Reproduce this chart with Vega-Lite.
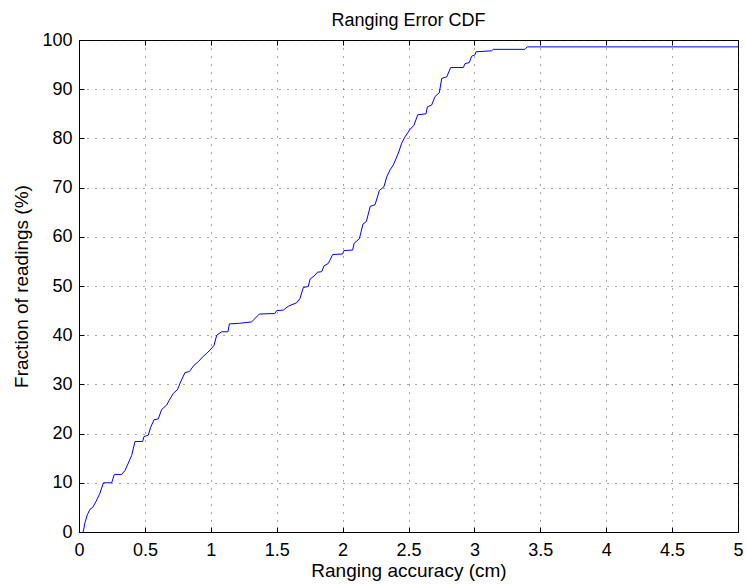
{
  "$schema": "https://vega.github.io/schema/vega-lite/v6.json",
  "autosize": "none",
  "width": 659,
  "height": 492,
  "padding": {"left": 79, "top": 40, "right": 8, "bottom": 52},
  "background": "white",
  "config": {
    "font": "Liberation Sans",
    "view": {"stroke": "black", "strokeWidth": 1},
    "axis": {
      "domainColor": "black",
      "tickColor": "black",
      "labelColor": "black",
      "titleColor": "black",
      "labelFont": "Liberation Sans",
      "titleFont": "Liberation Sans",
      "labelFontSize": 18,
      "titleFontSize": 19,
      "titleFontWeight": "normal",
      "tickSize": -5,
      "gridColor": "#222",
      "gridDash": [1, 7],
      "gridOpacity": 0.8
    },
    "title": {"font": "Liberation Sans", "fontSize": 18, "fontWeight": "normal", "color": "black"}
  },
  "title": {"text": "Ranging Error CDF", "offset": 1},
  "data": {
    "values": [
      {"x": 0.03, "y": 0}, {"x": 0.035, "y": 0.4}, {"x": 0.045, "y": 1.9}, {"x": 0.063, "y": 3.5},
      {"x": 0.083, "y": 4.6}, {"x": 0.104, "y": 5.0}, {"x": 0.129, "y": 6.2}, {"x": 0.159, "y": 7.9},
      {"x": 0.185, "y": 10.0}, {"x": 0.248, "y": 10.0}, {"x": 0.268, "y": 11.7}, {"x": 0.324, "y": 11.7},
      {"x": 0.349, "y": 12.5}, {"x": 0.374, "y": 14.0}, {"x": 0.4, "y": 15.6}, {"x": 0.425, "y": 18.4},
      {"x": 0.483, "y": 18.4}, {"x": 0.493, "y": 19.4}, {"x": 0.526, "y": 19.7}, {"x": 0.544, "y": 21.3},
      {"x": 0.569, "y": 22.8}, {"x": 0.602, "y": 23.0}, {"x": 0.627, "y": 24.9}, {"x": 0.665, "y": 25.8},
      {"x": 0.685, "y": 26.8}, {"x": 0.716, "y": 28.2}, {"x": 0.746, "y": 28.9}, {"x": 0.771, "y": 30.5},
      {"x": 0.804, "y": 32.4}, {"x": 0.837, "y": 32.6}, {"x": 0.873, "y": 33.9}, {"x": 0.905, "y": 34.6},
      {"x": 0.938, "y": 35.6}, {"x": 0.969, "y": 36.3}, {"x": 0.994, "y": 37.0}, {"x": 1.024, "y": 37.9},
      {"x": 1.045, "y": 40.0}, {"x": 1.083, "y": 40.7}, {"x": 1.13, "y": 40.7}, {"x": 1.141, "y": 42.3},
      {"x": 1.209, "y": 42.4}, {"x": 1.31, "y": 42.7}, {"x": 1.368, "y": 44.3}, {"x": 1.485, "y": 44.4},
      {"x": 1.5, "y": 45.0}, {"x": 1.55, "y": 45.1}, {"x": 1.588, "y": 45.9}, {"x": 1.652, "y": 46.6},
      {"x": 1.677, "y": 47.5}, {"x": 1.702, "y": 49.7}, {"x": 1.74, "y": 49.9}, {"x": 1.753, "y": 51.4},
      {"x": 1.791, "y": 52.2}, {"x": 1.808, "y": 52.8}, {"x": 1.841, "y": 52.9}, {"x": 1.859, "y": 54.1},
      {"x": 1.892, "y": 54.6}, {"x": 1.925, "y": 56.4}, {"x": 2.0, "y": 56.5}, {"x": 2.011, "y": 57.2},
      {"x": 2.076, "y": 57.3}, {"x": 2.088, "y": 58.7}, {"x": 2.127, "y": 59.6}, {"x": 2.155, "y": 62.6},
      {"x": 2.18, "y": 63.1}, {"x": 2.21, "y": 66.2}, {"x": 2.246, "y": 66.5}, {"x": 2.279, "y": 69.4},
      {"x": 2.314, "y": 70.2}, {"x": 2.335, "y": 72.2}, {"x": 2.36, "y": 73.6}, {"x": 2.385, "y": 74.6},
      {"x": 2.423, "y": 77.0}, {"x": 2.448, "y": 79.0}, {"x": 2.473, "y": 80.3}, {"x": 2.511, "y": 81.8},
      {"x": 2.542, "y": 82.7}, {"x": 2.57, "y": 84.8}, {"x": 2.633, "y": 85.0}, {"x": 2.643, "y": 86.4},
      {"x": 2.676, "y": 86.8}, {"x": 2.701, "y": 88.5}, {"x": 2.734, "y": 89.3}, {"x": 2.752, "y": 92.2},
      {"x": 2.79, "y": 92.5}, {"x": 2.82, "y": 94.4}, {"x": 2.916, "y": 94.4}, {"x": 2.929, "y": 95.2},
      {"x": 2.961, "y": 95.4}, {"x": 2.979, "y": 96.7}, {"x": 3.005, "y": 97.0}, {"x": 3.012, "y": 97.6},
      {"x": 3.131, "y": 97.8}, {"x": 3.143, "y": 98.1}, {"x": 3.384, "y": 98.1}, {"x": 3.401, "y": 98.6},
      {"x": 5.0, "y": 98.6}
    ]
  },
  "layer": [
    {
      "mark": {"type": "line", "color": "#0000ff", "strokeWidth": 1, "opacity": 0},
      "encoding": {
        "x": {"field": "x", "type": "quantitative", "scale": {"domain": [0, 5], "nice": false, "zero": false},
              "axis": {"orient": "top", "labels": false, "title": null, "grid": false, "domain": false, "values": [0,0.5,1,1.5,2,2.5,3,3.5,4,4.5,5]}},
        "y": {"field": "y", "type": "quantitative", "scale": {"domain": [0, 100], "nice": false},
              "axis": {"orient": "right", "labels": false, "title": null, "grid": false, "domain": false, "values": [0,10,20,30,40,50,60,70,80,90,100]}}
      }
    },
    {
      "mark": {"type": "line", "color": "#0000ff", "strokeWidth": 1},
      "encoding": {
        "x": {"field": "x", "type": "quantitative", "scale": {"domain": [0, 5], "nice": false, "zero": false},
              "axis": {"orient": "bottom", "title": "Ranging accuracy (cm)", "grid": true, "values": [0,0.5,1,1.5,2,2.5,3,3.5,4,4.5,5], "format": "~g", "labelPadding": 14, "titlePadding": 2, "labelFlush": false}},
        "y": {"field": "y", "type": "quantitative", "scale": {"domain": [0, 100], "nice": false},
              "axis": {"orient": "left", "title": "Fraction of readings (%)", "grid": true, "values": [0,10,20,30,40,50,60,70,80,90,100], "format": "d", "labelPadding": 12, "titlePadding": 10, "labelFlush": false}}
      }
    }
  ],
  "resolve": {"axis": {"x": "independent", "y": "independent"}}
}
